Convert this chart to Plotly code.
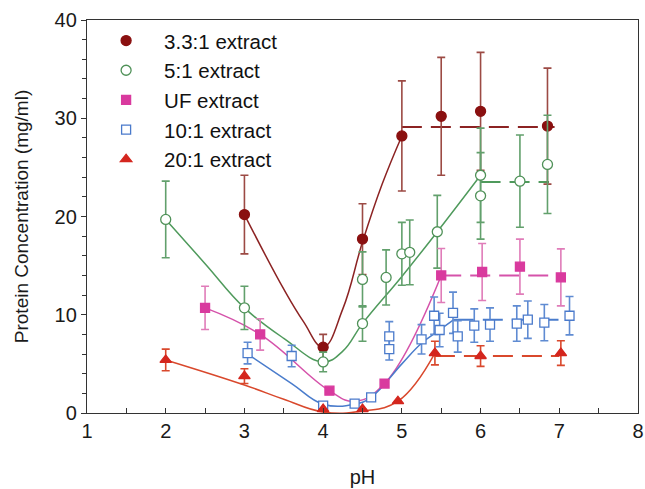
import plotly.graph_objects as go

# ---------------- data ----------------
names = ["3.3:1 extract", "5:1 extract", "UF extract", "10:1 extract", "20:1 extract"]

ph_33 = [3, 4, 4.5, 5, 5.5, 6, 6.85]
conc_33 = [20.2, 6.7, 17.7, 28.2, 30.2, 30.7, 29.2]
err_33 = [4.0, 1.3, 3.6, 5.6, 6.0, 6.0, 5.9]

ph_5 = [2, 3, 4, 4.5, 4.5, 4.8, 5.0, 5.1, 5.45, 6.0, 6.0, 6.5, 6.85]
conc_5 = [19.7, 10.7, 5.2, 9.1, 13.6, 13.8, 16.2, 16.35, 18.45, 24.2, 22.1, 23.6, 25.3]
err_5 = [3.9, 2.2, 1.0, 1.8, 2.8, 2.8, 3.2, 3.3, 3.7, 4.8, 4.4, 4.7, 5.0]

ph_uf = [2.5, 3.2, 4.08, 4.78, 5.5, 6.02, 6.5, 7.02]
conc_uf = [10.7, 8.0, 2.27, 3.0, 14.0, 14.35, 14.9, 13.8]
err_uf = [2.2, 1.6, 0.3, 0.3, 2.75, 2.9, 2.8, 2.9]

ph_10 = [3.04, 3.6, 4.0, 4.4, 4.61, 4.84, 4.84, 5.25, 5.41, 5.48, 5.65, 5.71, 5.92, 6.12, 6.46, 6.6, 6.81, 7.13]
conc_10 = [6.1, 5.8, 0.75, 0.95, 1.6, 7.8, 6.5, 7.5, 9.9, 8.45, 10.2, 7.8, 8.9, 9.0, 9.1, 9.5, 9.2, 9.9]
err_10 = [1.1, 1.1, 0.3, 0.2, 0.3, 1.5, 1.1, 1.5, 1.9, 1.7, 2.1, 1.6, 1.7, 1.7, 1.8, 1.9, 1.85, 1.95]

ph_20 = [2, 3, 4, 4.5, 4.95, 5.42, 6.0, 7.02]
conc_20 = [5.4, 3.75, 0.4, 0.4, 1.2, 6.1, 5.8, 6.1]
err_20 = [1.1, 0.75, 0, 0, 0, 1.2, 1.05, 1.25]

# fitted trend curves (solid) and plateaus (dashed)
fit_x_33 = [3, 3.5, 3.75, 4, 4.25, 4.5, 4.75, 5]
fit_y_33 = [20.2, 12.6, 9.3, 6.7, 10.6, 17.4, 23.3, 28.2]
plat_x_33 = [5.0, 6.94]
plat_y_33 = [29.1, 29.1]

fit_x_5 = [2, 2.5, 3, 3.5, 4, 4.25, 4.5, 5, 5.45, 6]
fit_y_5 = [19.7, 15.2, 10.7, 7.6, 5.2, 6.3, 9.1, 13.9, 18.45, 24.2]
plat_x_5 = [6.0, 6.87]
plat_y_5 = [23.5, 23.5]

fit_x_uf = [2.5, 3.2, 4.08, 4.4, 4.78, 5.5]
fit_y_uf = [10.7, 8.0, 2.27, 1.2, 3.0, 14.0]
plat_x_uf = [5.5, 7.05]
plat_y_uf = [14.0, 14.0]

fit_x_10 = [3.04, 3.6, 4.0, 4.4, 4.61, 5.0, 5.25, 5.48, 5.66]
fit_y_10 = [6.0, 3.0, 0.9, 0.9, 1.6, 5.0, 7.1, 8.45, 9.5]
plat_x_10 = [5.66, 6.99]
plat_y_10 = [9.5, 9.5]

fit_x_20 = [2, 3, 3.5, 4, 4.5, 4.95, 5.42]
fit_y_20 = [5.4, 2.85, 1.4, 0.1, 0.2, 1.2, 6.1]
plat_x_20 = [5.42, 7.0]
plat_y_20 = [5.8, 5.8]

# ---------------- styling ----------------
series = [
    dict(x=ph_33, y=conc_33, e=err_33, fx=fit_x_33, fy=fit_y_33, px=plat_x_33, py=plat_y_33,
         mcol="#8a1010", fill="#8a1010", lcol="#8c2323", ecol="#9c4a44", sym="circle", size=10),
    dict(x=ph_5, y=conc_5, e=err_5, fx=fit_x_5, fy=fit_y_5, px=plat_x_5, py=plat_y_5,
         mcol="#4f9158", fill="white", lcol="#4f9a5c", ecol="#62a06c", sym="circle", size=10),
    dict(x=ph_uf, y=conc_uf, e=err_uf, fx=fit_x_uf, fy=fit_y_uf, px=plat_x_uf, py=plat_y_uf,
         mcol="#d93a9e", fill="#d93a9e", lcol="#d552aa", ecol="#e07cb9", sym="square", size=9),
    dict(x=ph_10, y=conc_10, e=err_10, fx=fit_x_10, fy=fit_y_10, px=plat_x_10, py=plat_y_10,
         mcol="#4a7acb", fill="white", lcol="#4a7ccc", ecol="#5f8bd2", sym="square", size=9),
    dict(x=ph_20, y=conc_20, e=err_20, fx=fit_x_20, fy=fit_y_20, px=plat_x_20, py=plat_y_20,
         mcol="#d4261e", fill="#d4261e", lcol="#d9482c", ecol="#d9482c", sym="triangle-up", size=10),
]

fig = go.Figure()

# lines first (behind markers)
for s in series:
    fig.add_trace(go.Scatter(x=s["fx"], y=s["fy"], mode="lines",
                             line=dict(color=s["lcol"], width=1.5, shape="spline", smoothing=1.2),
                             showlegend=False, hoverinfo="skip"))
    fig.add_trace(go.Scatter(x=s["px"], y=s["py"], mode="lines",
                             line=dict(color=s["lcol"], width=2, dash="20px,9px"),
                             showlegend=False, hoverinfo="skip"))

for name, s in zip(names, series):
    fig.add_trace(go.Scatter(
        x=s["x"], y=s["y"], mode="markers", name=name, cliponaxis=False,
        marker=dict(symbol=s["sym"], size=s["size"], color=s["fill"],
                    line=dict(color=s["mcol"], width=1.3)),
        error_y=dict(type="data", array=s["e"], visible=True, color=s["ecol"],
                     thickness=1.6, width=4),
    ))

fig.update_layout(
    width=645, height=489,
    margin=dict(l=87, r=7, t=20, b=76),
    paper_bgcolor="white", plot_bgcolor="white",
    font=dict(family="Liberation Sans, Arial, sans-serif", color="#1a1a1a"),
    legend=dict(x=0.002, y=0.998, xanchor="left", yanchor="top",
                font=dict(size=20.5, color="#111"), bgcolor="rgba(255,255,255,0)",
                itemwidth=66, tracegroupgap=0),
    showlegend=True,
)
fig.update_xaxes(range=[1, 8], dtick=1, tick0=1, showgrid=False, zeroline=False,
                 showline=True, linecolor="#333", linewidth=1.3, mirror=True,
                 ticks="inside", ticklen=5, tickcolor="#333",
                 minor=dict(dtick=0.5, ticks="inside", ticklen=5, tickcolor="#333"),
                 tickfont=dict(size=20), automargin=False,
                 title=dict(text="pH", font=dict(size=20), standoff=28))
fig.update_yaxes(range=[0, 40], dtick=10, showgrid=False, zeroline=False,
                 showline=True, linecolor="#333", linewidth=1.3, mirror=True,
                 ticks="outside", ticklen=5, tickcolor="#333",
                 minor=dict(dtick=2, ticks="outside", ticklen=4, tickcolor="#333"),
                 tickfont=dict(size=20), automargin=False,
                 title=dict(text="Protein Concentration (mg/ml)", font=dict(size=19), standoff=20))

fig.write_html("out.html")
